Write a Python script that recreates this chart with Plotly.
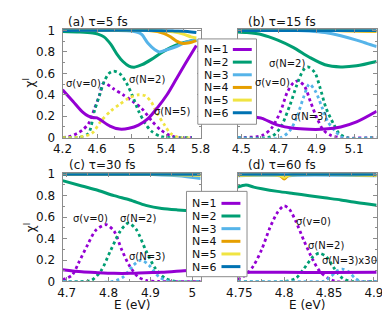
import plotly.graph_objects as go

W, H = 390, 315
FONT = "DejaVu Sans"

# ---------------- data ----------------
colors = {"N1": "#9400D3", "N2": "#009E73", "N3": "#56B4E9",
          "N4": "#E69F00", "N5": "#F0E442", "N6": "#0072B2"}
legend_labels = ["N=1", "N=2", "N=3", "N=4", "N=5", "N=6"]

# panel (a) tau=5 fs
a_E_N1 = [4.2, 4.32, 4.43, 4.5, 4.56, 4.6, 4.65, 4.75, 4.86, 4.97, 5.08, 5.19, 5.3, 5.41, 5.52, 5.63, 5.75]
a_N1 = [0.447, 0.34, 0.24, 0.2, 0.186, 0.185, 0.16, 0.108, 0.08, 0.087, 0.117, 0.177, 0.28, 0.40, 0.55, 0.70, 0.86]
a_E_N2 = [4.2, 4.4, 4.55, 4.61, 4.68, 4.76, 4.83, 4.9, 4.97, 5.03, 5.12, 5.23, 5.34, 5.45, 5.56, 5.67, 5.75]
a_N2 = [0.99, 0.985, 0.975, 0.965, 0.94, 0.87, 0.78, 0.71, 0.667, 0.657, 0.68, 0.73, 0.79, 0.84, 0.877, 0.90, 0.91]
a_E_N3 = [4.2, 4.8, 5.0, 5.08, 5.12, 5.19, 5.27, 5.32, 5.41, 5.52, 5.63, 5.75]
a_N3 = [1.0, 1.0, 0.995, 0.98, 0.96, 0.88, 0.82, 0.80, 0.82, 0.85, 0.89, 0.91]
a_E_N4 = [4.2, 5.2, 5.3, 5.38, 5.45, 5.52, 5.58, 5.67, 5.75]
a_N4 = [1.0, 1.0, 0.99, 0.97, 0.94, 0.90, 0.88, 0.885, 0.905]
a_E_N5 = [4.2, 5.4, 5.5, 5.6, 5.69, 5.75]
a_N5 = [1.0, 0.995, 0.985, 0.965, 0.94, 0.93]
a_E_N6 = [4.2, 5.3, 5.5, 5.65, 5.75]
a_N6 = [1.0, 1.0, 0.995, 0.99, 0.98]
a_E_s0 = [4.2, 4.3, 4.37, 4.43, 4.5, 4.57, 4.63, 4.665, 4.69, 4.79, 4.9, 5.01, 5.12, 5.23, 5.34, 5.45, 5.55, 5.7]
a_s0 = [0.0, 0.015, 0.04, 0.07, 0.13, 0.27, 0.40, 0.50, 0.51, 0.456, 0.40, 0.34, 0.27, 0.16, 0.07, 0.02, 0.0, 0.0]
a_E_s2 = [4.2, 4.4, 4.5, 4.57, 4.63, 4.68, 4.74, 4.79, 4.86, 4.94, 5.01, 5.08, 5.16, 5.23, 5.34, 5.45, 5.7]
a_s2 = [0.0, 0.005, 0.04, 0.25, 0.40, 0.52, 0.60, 0.62, 0.60, 0.51, 0.39, 0.25, 0.13, 0.06, 0.01, 0.0, 0.0]
a_E_s5 = [4.2, 4.4, 4.54, 4.65, 4.76, 4.86, 4.97, 5.08, 5.16, 5.23, 5.3, 5.38, 5.45, 5.55, 5.7]
a_s5 = [0.0, 0.005, 0.04, 0.16, 0.25, 0.31, 0.37, 0.40, 0.39, 0.33, 0.22, 0.12, 0.04, 0.0, 0.0]

# panel (b) tau=15 fs
b_E_N1 = [4.48, 4.53, 4.58, 4.61, 4.694, 4.778, 4.862, 4.945, 5.029, 5.113, 5.22]
b_N1 = [0.27, 0.23, 0.19, 0.18, 0.117, 0.087, 0.078, 0.08, 0.10, 0.147, 0.246]
b_E_N2 = [4.48, 4.53, 4.61, 4.694, 4.778, 4.862, 4.945, 5.029, 5.113, 5.22]
b_N2 = [0.985, 0.98, 0.96, 0.91, 0.84, 0.75, 0.68, 0.66, 0.67, 0.71]
b_E_N3 = [4.48, 4.8, 4.862, 4.945, 5.029, 5.113, 5.17, 5.22]
b_N3 = [1.0, 1.0, 0.995, 0.98, 0.95, 0.91, 0.877, 0.85]
b_E_N456 = [4.48, 5.0, 5.22]
b_N4 = [1.0, 1.0, 0.99]
b_N5 = [1.0, 1.0, 0.995]
b_N6 = [1.0, 1.0, 1.0]
b_E_s0 = [4.48, 4.61, 4.66, 4.71, 4.7435, 4.777, 4.802, 4.836, 4.869, 4.903, 4.937, 4.978, 5.03, 5.22]
b_s0 = [0.0, 0.02, 0.087, 0.25, 0.42, 0.51, 0.53, 0.48, 0.33, 0.18, 0.07, 0.02, 0.0, 0.0]
b_E_s2 = [4.48, 4.66, 4.71, 4.76, 4.795, 4.83, 4.853, 4.89, 4.92, 4.95, 4.99, 5.02, 5.06, 5.22]
b_s2 = [0.0, 0.01, 0.10, 0.31, 0.49, 0.63, 0.66, 0.61, 0.46, 0.28, 0.13, 0.04, 0.0, 0.0]
b_E_s3 = [4.48, 4.71, 4.76, 4.795, 4.83, 4.862, 4.895, 4.93, 4.96, 5.0, 5.04, 5.22]
b_s3 = [0.0, 0.0, 0.07, 0.19, 0.37, 0.50, 0.43, 0.28, 0.15, 0.06, 0.0, 0.0]

# panel (c) tau=30 fs
c_E_N1 = [4.69, 4.736, 4.774, 4.813, 4.851, 4.889, 4.927, 4.98, 5.02]
c_N1 = [0.11, 0.09, 0.082, 0.076, 0.076, 0.082, 0.085, 0.10, 0.11]
c_E_N2 = [4.69, 4.736, 4.774, 4.813, 4.851, 4.889, 4.927, 4.965, 5.0, 5.02]
c_N2 = [0.94, 0.89, 0.85, 0.80, 0.76, 0.71, 0.68, 0.667, 0.66, 0.66]
c_E_N3 = [4.69, 4.88, 4.965, 5.02]
c_N3 = [1.0, 1.0, 0.985, 0.96]
c_E_N456 = [4.69, 4.9, 5.02]
c_N4 = [1.0, 1.0, 0.995]
c_N5 = [1.0, 1.0, 0.99]
c_N6 = [1.0, 1.0, 1.0]
c_E_s0 = [4.69, 4.713, 4.728, 4.751, 4.77, 4.794, 4.813, 4.832, 4.851, 4.87, 4.889, 4.92, 5.02]
c_s0 = [0.015, 0.06, 0.17, 0.35, 0.48, 0.53, 0.47, 0.29, 0.14, 0.045, 0.01, 0.0, 0.0]
c_E_s2 = [4.69, 4.74, 4.759, 4.782, 4.805, 4.828, 4.847, 4.866, 4.889, 4.912, 4.935, 4.96, 5.02]
c_s2 = [0.0, 0.0, 0.01, 0.10, 0.29, 0.47, 0.545, 0.485, 0.29, 0.12, 0.03, 0.0, 0.0]
c_E_s3 = [4.69, 4.81, 4.836, 4.859, 4.878, 4.897, 4.92, 4.945, 5.02]
c_s3 = [0.0, 0.0, 0.045, 0.15, 0.20, 0.15, 0.045, 0.0, 0.0]

# panel (d) tau=60 fs
d_E_N1 = [4.748, 4.8, 4.85, 4.903]
d_N1 = [0.086, 0.085, 0.084, 0.085]
d_E_N2 = [4.748, 4.7574, 4.766, 4.775, 4.7926, 4.81, 4.828, 4.845, 4.863, 4.8806, 4.903]
d_N2 = [0.88, 0.90, 0.88, 0.865, 0.84, 0.82, 0.80, 0.78, 0.76, 0.736, 0.71]
d_E_N3456 = [4.748, 4.795, 4.8, 4.805, 4.903]
d_N3 = [0.985, 0.985, 0.97, 0.985, 0.985]
d_N4 = [0.99, 0.99, 0.955, 0.99, 0.99]
d_N5 = [0.99, 0.99, 0.97, 0.99, 0.99]
d_N6 = [1.0, 1.0, 1.0, 1.0, 1.0]
d_E_s0 = [4.748, 4.757, 4.766, 4.775, 4.784, 4.793, 4.80, 4.806, 4.813, 4.822, 4.832, 4.84, 4.849, 4.858, 4.903]
d_s0 = [0.02, 0.06, 0.15, 0.30, 0.50, 0.65, 0.706, 0.67, 0.56, 0.38, 0.20, 0.09, 0.03, 0.0, 0.0]
d_E_s2 = [4.748, 4.80, 4.813, 4.822, 4.832, 4.839, 4.847, 4.856, 4.865, 4.875, 4.903]
d_s2 = [0.0, 0.0, 0.03, 0.12, 0.23, 0.264, 0.23, 0.12, 0.03, 0.0, 0.0]
d_E_s3 = [4.748, 4.84, 4.845, 4.852, 4.859, 4.865, 4.872, 4.879, 4.886, 4.903]
d_s3 = [0.0, 0.0, 0.005, 0.045, 0.10, 0.115, 0.09, 0.03, 0.0, 0.0]

# tick labels
a_ticks = [4.2, 4.6, 5.0, 5.4, 5.8]
a_ticktext = ["4.2", "4.6", "5", "5.4", "5.8"]
b_ticks = [4.5, 4.7, 4.9, 5.1]
b_ticktext = ["4.5", "4.7", "4.9", "5.1"]
c_ticks = [4.7, 4.8, 4.9, 5.0]
c_ticktext = ["4.7", "4.8", "4.9", "5"]
d_ticks = [4.75, 4.8, 4.85, 4.9]
d_ticktext = ["4.75", "4.8", "4.85", "4.9"]
y_ticks = [0, 0.2, 0.4, 0.6, 0.8, 1.0]
y_ticktext = ["0", "0.2", "0.4", "0.6", "0.8", "1"]

# ---------------- helpers ----------------
def px(x):
    return x / W

def py(y):
    return 1 - y / H

fig = go.Figure()

panels = {
    "a": dict(ax="", solids=[(a_E_N1, a_N1, "N1"), (a_E_N2, a_N2, "N2"), (a_E_N3, a_N3, "N3"),
                            (a_E_N4, a_N4, "N4"), (a_E_N5, a_N5, "N5"), (a_E_N6, a_N6, "N6")],
              dots=[(a_E_s0, a_s0, "N1"), (a_E_s2, a_s2, "N2"), (a_E_s5, a_s5, "N5")]),
    "b": dict(ax="2", solids=[(b_E_N1, b_N1, "N1"), (b_E_N2, b_N2, "N2"), (b_E_N3, b_N3, "N3"),
                             (b_E_N456, b_N4, "N4"), (b_E_N456, b_N5, "N5"), (b_E_N456, b_N6, "N6")],
              dots=[(b_E_s0, b_s0, "N1"), (b_E_s2, b_s2, "N2"), (b_E_s3, b_s3, "N3")]),
    "c": dict(ax="3", solids=[(c_E_N1, c_N1, "N1"), (c_E_N2, c_N2, "N2"), (c_E_N3, c_N3, "N3"),
                             (c_E_N456, c_N4, "N4"), (c_E_N456, c_N5, "N5"), (c_E_N456, c_N6, "N6")],
              dots=[(c_E_s0, c_s0, "N1"), (c_E_s2, c_s2, "N2"), (c_E_s3, c_s3, "N3")]),
    "d": dict(ax="4", solids=[(d_E_N1, d_N1, "N1"), (d_E_N2, d_N2, "N2"), (d_E_N3456, d_N3, "N3"),
                             (d_E_N3456, d_N4, "N4"), (d_E_N3456, d_N5, "N5"), (d_E_N3456, d_N6, "N6")],
              dots=[(d_E_s0, d_s0, "N1"), (d_E_s2, d_s2, "N2"), (d_E_s3, d_s3, "N3")]),
}

for key, p in panels.items():
    xa, ya = "x" + p["ax"], "y" + p["ax"]
    for E, v, n in p["dots"]:
        fig.add_trace(go.Scatter(x=E, y=v, mode="lines", xaxis=xa, yaxis=ya, showlegend=False,
                                 line=dict(color=colors[n], width=2.8, dash="dot", shape="spline", smoothing=0.8)))
    for E, v, n in p["solids"]:
        fig.add_trace(go.Scatter(x=E, y=v, mode="lines", xaxis=xa, yaxis=ya, showlegend=False,
                                 line=dict(color=colors[n], width=3, shape="spline", smoothing=0.8)))

FRAME = "#8c8c8c"
TICKFONT = dict(family=FONT, size=12, color="#111111")

def xaxis(dom, rng, tv, tt, minor_dt):
    return dict(domain=dom, range=rng, tickvals=tv, ticktext=tt, showgrid=False, zeroline=False,
                showline=True, linecolor=FRAME, linewidth=1, mirror="ticks", ticks="inside",
                ticklen=4, tickcolor=FRAME, tickfont=TICKFONT,
                minor=dict(ticks="inside", ticklen=2, tickcolor=FRAME, dtick=minor_dt, showgrid=False))

def yaxis(dom, anchor, labels):
    return dict(domain=dom, range=[0, 1.01], tickvals=y_ticks, ticktext=y_ticktext,
                showticklabels=labels, anchor=anchor, showgrid=False, zeroline=False,
                showline=True, linecolor=FRAME, linewidth=1, mirror="ticks", ticks="inside",
                ticklen=4, tickcolor=FRAME, tickfont=TICKFONT, ticklabelstandoff=4,
                minor=dict(ticks="inside", ticklen=2, tickcolor=FRAME, dtick=0.1, showgrid=False))

left_dom = [px(46), px(192)]
right_dom = [px(231), px(378)]
top_dom = [py(129), py(16)]
bot_dom = [py(279), py(166)]

fig.update_layout(
    width=W, height=H, margin=dict(l=0, r=0, t=0, b=0),
    paper_bgcolor="white", plot_bgcolor="white", showlegend=False,
    xaxis=dict(**xaxis(left_dom, [4.2, 5.8], a_ticks, a_ticktext, 0.2), anchor="y"),
    yaxis=yaxis(top_dom, "x", True),
    xaxis2=dict(**xaxis(right_dom, [4.48, 5.22], b_ticks, b_ticktext, 0.1), anchor="y2"),
    yaxis2=yaxis(top_dom, "x2", False),
    xaxis3=dict(**xaxis(left_dom, [4.69, 5.02], c_ticks, c_ticktext, 0.05), anchor="y3"),
    yaxis3=yaxis(bot_dom, "x3", True),
    xaxis4=dict(**xaxis(right_dom, [4.748, 4.903], d_ticks, d_ticktext, 0.025), anchor="y4"),
    yaxis4=yaxis(bot_dom, "x4", False),
)

ann = []
def text(x, y, s, size=12, xanchor="center", yanchor="middle", angle=0, height=None):
    a = dict(x=px(x), y=py(y), xref="paper", yref="paper", text=s, showarrow=False,
             xanchor=xanchor, yanchor=yanchor, textangle=angle, borderpad=0,
             font=dict(family=FONT, size=size, color="#111111"))
    if height:
        a["height"] = height
    ann.append(a)

# panel titles
text(51, 8, "(a) τ=5 fs", xanchor="left")
text(241, 8, "(b) τ=15 fs", xanchor="left")
text(52, 158, "(c) τ=30 fs", xanchor="left")
text(241, 158, "(d) τ=60 fs", xanchor="left")
# axis titles
text(11, 72, "χ<sup>I</sup>", size=12, angle=-90)
text(11, 223, "χ<sup>I</sup>", size=12, angle=-90)
text(119, 304, "E (eV)", size=12)
text(304, 304, "E (eV)", size=12)
# sigma labels
S = 10
text(68, 73, "σ(v=0)", S)
text(135, 68, "σ(N=2)", S)
text(162, 102, "σ(N=5)", S)
text(283, 52, "σ(N=2)", S)
text(268, 71, "σ(v=0)", S)
text(306, 107, "σ(N=3)", S)
text(76, 213, "σ(v=0)", S)
text(126, 213, "σ(N=2)", S)
text(135, 253, "σ(N=3)", S)
text(311, 216, "σ(v=0)", S)
text(324, 241, "σ(N=2)", S)
text(349, 257, "σ(N=3)x30", S)

shapes = []
def legend_box(x0, y0, x1, y1, tx, lx0, lx1, ys):
    shapes.append(dict(type="rect", xref="paper", yref="paper", x0=px(x0), x1=px(x1),
                       y0=py(y1), y1=py(y0), fillcolor="white", line=dict(color=FRAME, width=1),
                       layer="above"))
    keys = ["N1", "N2", "N3", "N4", "N5", "N6"]
    for i, (k, lab) in enumerate(zip(keys, legend_labels)):
        y = ys[0] + i * (ys[1] - ys[0]) / 5
        text(tx, y, lab, 11, xanchor="left", height=12)
        shapes.append(dict(type="line", xref="paper", yref="paper", x0=px(lx0), x1=px(lx1),
                           y0=py(y), y1=py(y), line=dict(color=colors[k], width=3), layer="above"))

legend_box(189, 26, 251, 115, 194, 226, 246, (37, 103))
legend_box(177, 185, 241, 274, 182, 214, 234, (197.5, 263.5))

fig.update_layout(annotations=ann, shapes=shapes)
fig.write_html("out.html")
